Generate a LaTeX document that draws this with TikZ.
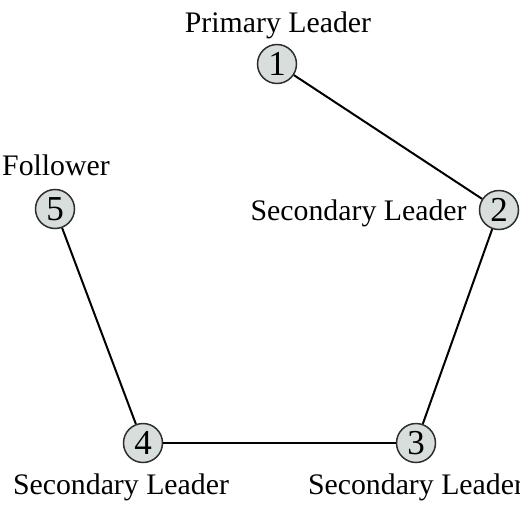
\documentclass[tikz,border=0pt]{standalone}
\usepackage{fontspec}
\setmainfont{Liberation Serif}
\definecolor{nodefill}{HTML}{D8DEDC}
\definecolor{nodeedge}{HTML}{2E2E2E}
\tikzset{
  agent/.style={circle, draw=nodeedge, fill=nodefill, line width=0.75pt,
    minimum size=19.5pt, inner sep=0pt, font=\fontsize{17.5}{19}\selectfont},
  role/.style={inner sep=0pt, font=\fontsize{14.9}{17}\selectfont},
  link/.style={line width=1pt, black}
}
\begin{document}
\begin{tikzpicture}[x=0.5pt, y=-0.5pt]
\useasboundingbox (0,0) rectangle (520,504);
\node[agent] (n1) at (277,64) {1};
\node[agent] (n2) at (499,210) {2};
\node[agent] (n3) at (416,443) {3};
\node[agent] (n4) at (143,443) {4};
\node[agent] (n5) at (55,209) {5};
\draw[link] (n1) -- (n2);
\draw[link] (n2) -- (n3);
\draw[link] (n3) -- (n4);
\draw[link] (n4) -- (n5);
\node[role, anchor=base] (l1) at (278,32) {Primary Leader};
\node[role, anchor=base east] (l2) at (467,220) {Secondary Leader};
\node[role, anchor=base] (l5) at (56,175) {Follower};
\node[role, anchor=base] (l4) at (121,494) {Secondary Leader};
\node[role, anchor=base] (l3) at (416,494) {Secondary Leader};
\end{tikzpicture}
\end{document}
